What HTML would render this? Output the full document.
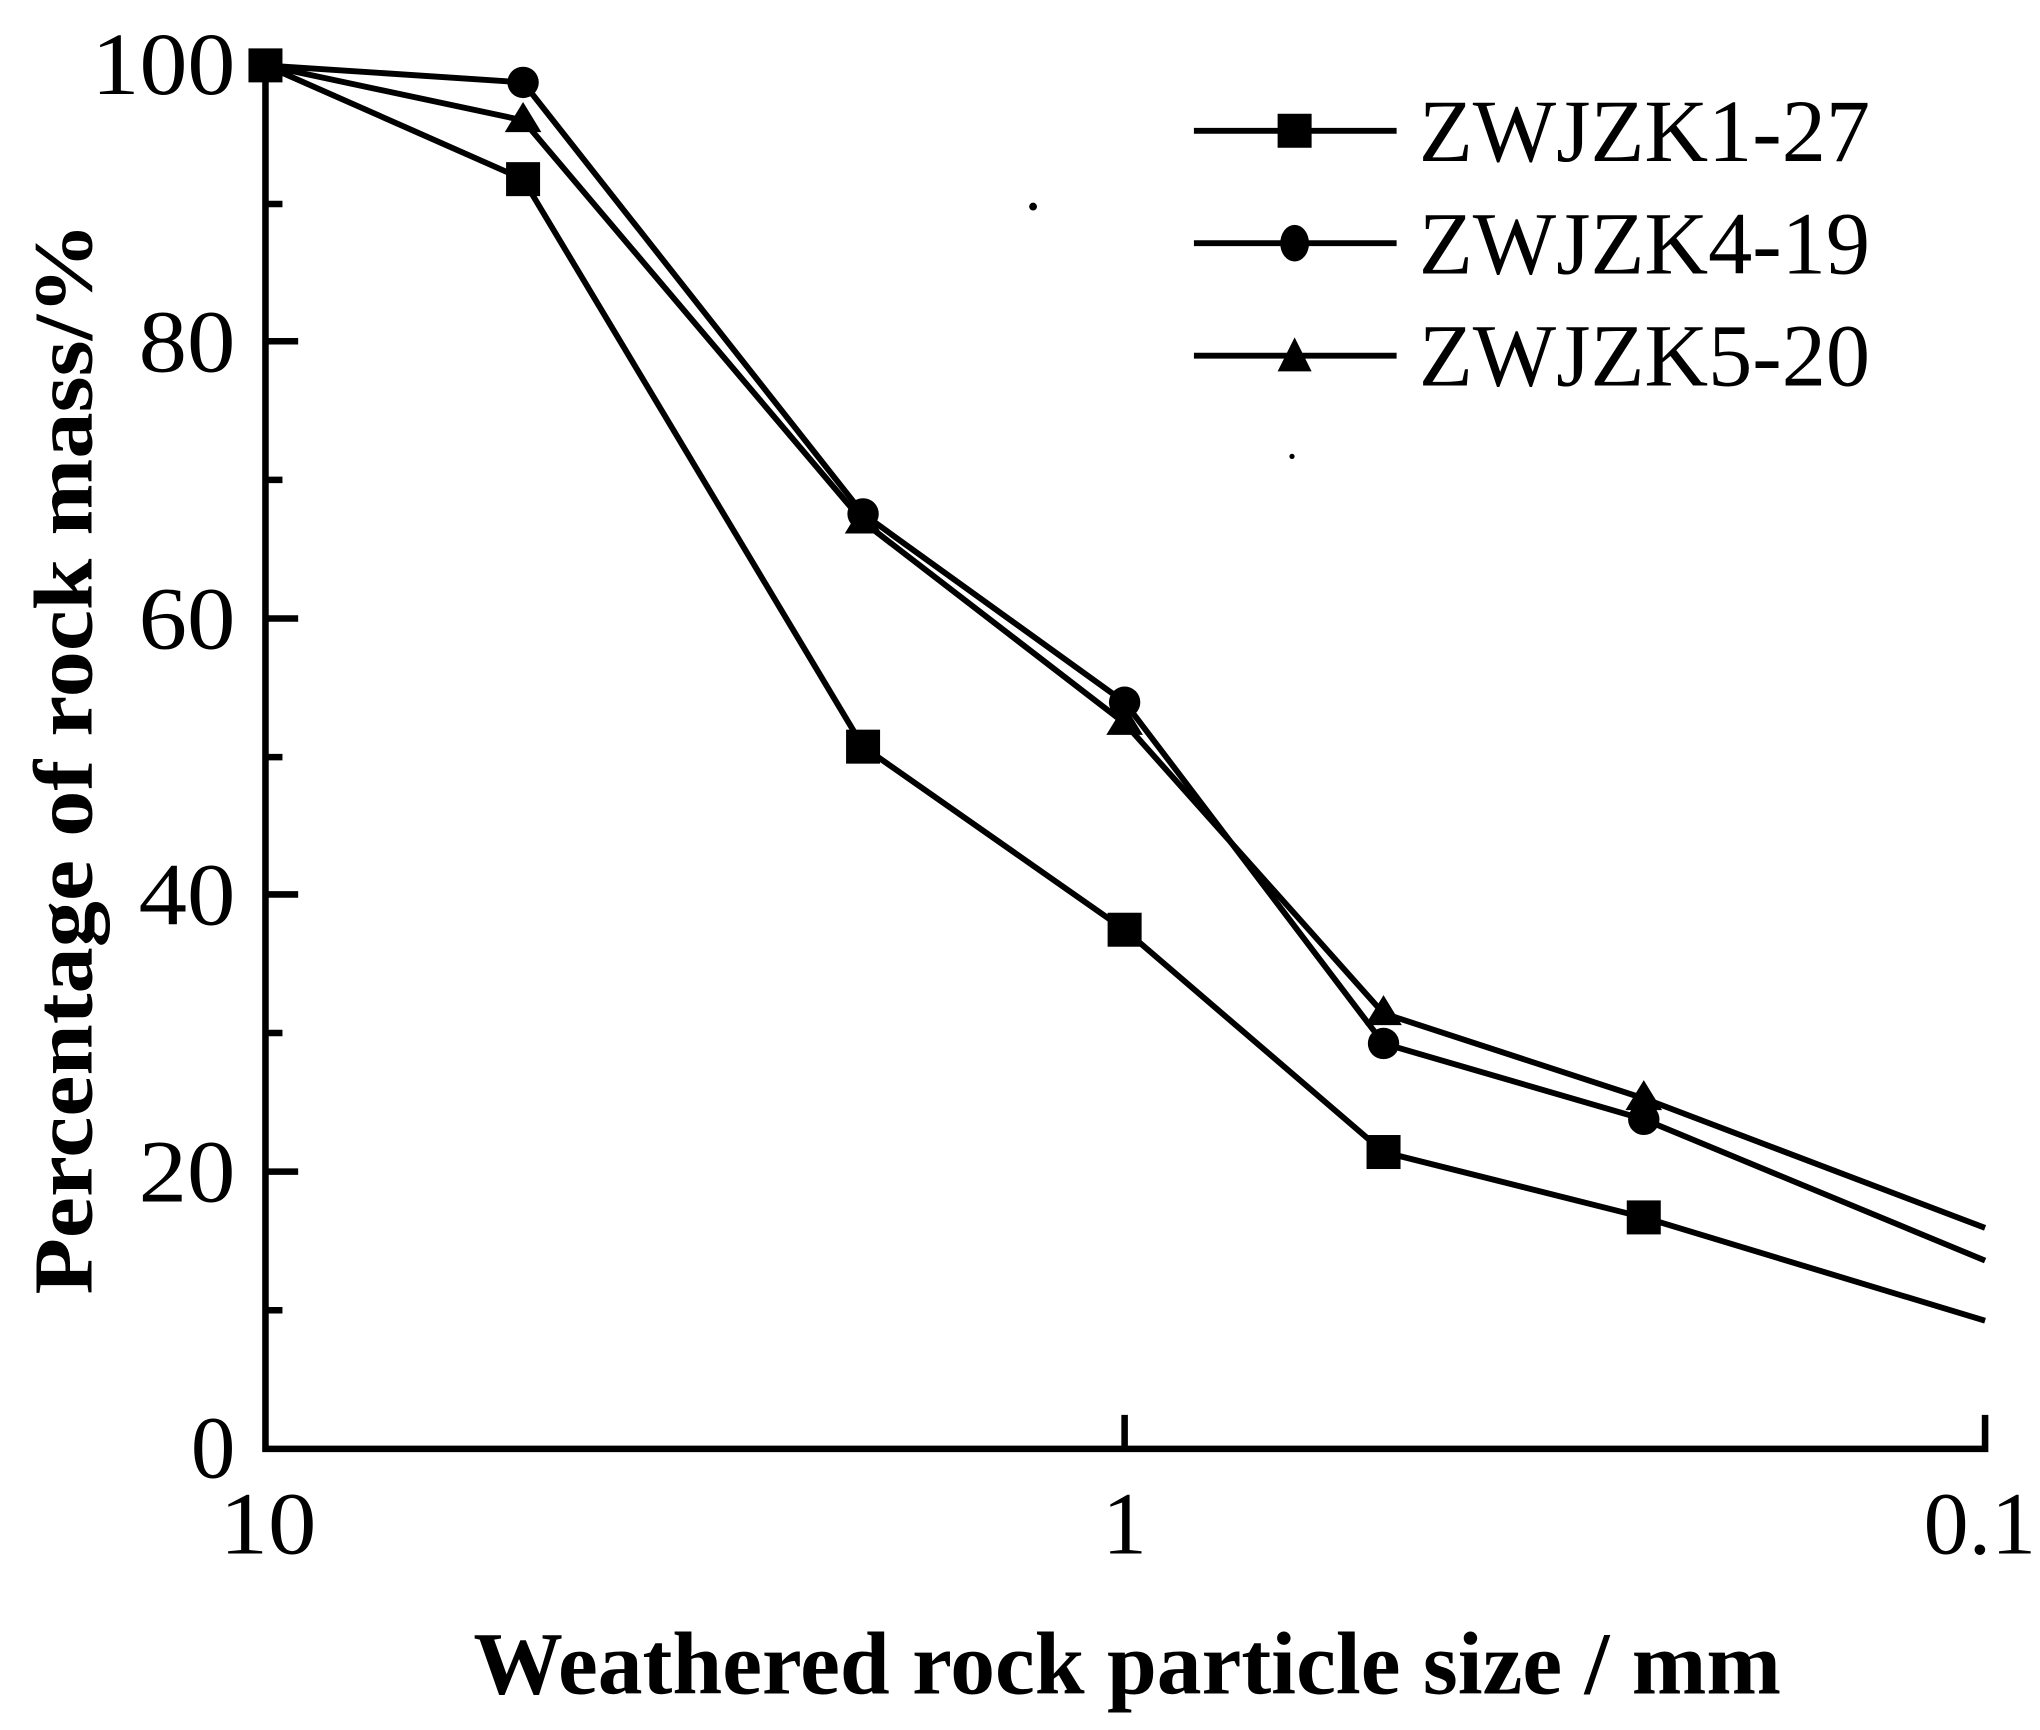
<!DOCTYPE html>
<html><head><meta charset="utf-8"><style>html,body{margin:0;padding:0;background:#fff}svg{display:block}</style></head>
<body>
<svg width="2040" height="1730" viewBox="0 0 1560 1323" preserveAspectRatio="none" xmlns="http://www.w3.org/2000/svg">
<g font-family="Liberation Serif, serif" fill="#000">
<!-- axes -->
<path d="M203,50 V1108 H1518 V1082" stroke="#000" stroke-width="5" fill="none"/>
<path d="M860,1108 V1082" stroke="#000" stroke-width="5"/>
<g stroke="#000" stroke-width="5">
<line x1="203" y1="896" x2="228" y2="896"/><line x1="203" y1="684" x2="228" y2="684"/>
<line x1="203" y1="473" x2="228" y2="473"/><line x1="203" y1="261" x2="228" y2="261"/>
<line x1="203" y1="1002" x2="216" y2="1002"/><line x1="203" y1="790" x2="216" y2="790"/>
<line x1="203" y1="579" x2="216" y2="579"/><line x1="203" y1="367" x2="216" y2="367"/>
<line x1="203" y1="156" x2="216" y2="156"/>
</g>
<g font-size="68" text-anchor="end">
<text x="180" y="72" textLength="110" lengthAdjust="spacingAndGlyphs">100</text><text x="180" y="284" textLength="74" lengthAdjust="spacingAndGlyphs">80</text><text x="180" y="496" textLength="74" lengthAdjust="spacingAndGlyphs">60</text>
<text x="180" y="707" textLength="74" lengthAdjust="spacingAndGlyphs">40</text><text x="180" y="919" textLength="74" lengthAdjust="spacingAndGlyphs">20</text><text x="180" y="1130">0</text>
</g>
<g font-size="68" text-anchor="middle">
<text x="205" y="1188" textLength="74" lengthAdjust="spacingAndGlyphs">10</text><text x="860" y="1188">1</text><text x="1514" y="1188" textLength="86" lengthAdjust="spacingAndGlyphs">0.1</text>
</g>
<text x="862" y="1295" font-size="68" font-weight="bold" text-anchor="middle" textLength="1000" lengthAdjust="spacingAndGlyphs">Weathered rock particle size / mm</text>
<text transform="translate(70,580) rotate(-90)" font-size="64" font-weight="bold" text-anchor="middle" textLength="820" lengthAdjust="spacingAndGlyphs">Percentage of rock mass/%</text>
<!-- series -->
<g stroke="#000" stroke-width="4.5" fill="none">
<polyline points="203,50 400,137 660,571 860,711 1058,881 1257,931 1518,1010"/>
<polyline points="203,50 400,63 660,393 860,537 1058,798 1257,856 1518,964"/>
<polyline points="203,50 400,92 660,399 860,553 1058,775 1257,840 1518,939"/>
</g>
<g>
<rect x="190" y="37" width="26" height="26"/><rect x="387" y="124" width="26" height="26"/>
<rect x="647" y="558" width="26" height="26"/><rect x="847" y="698" width="26" height="26"/>
<rect x="1045" y="868" width="26" height="26"/><rect x="1244" y="918" width="26" height="26"/>
<circle cx="400" cy="63" r="12"/><circle cx="660" cy="393" r="12"/><circle cx="860" cy="537" r="12"/>
<circle cx="1058" cy="798" r="12"/><circle cx="1257" cy="856" r="12"/>
<path d="M400,78 l-14,23 h28z M660,385 l-14,23 h28z M860,539 l-14,23 h28z M1058,761 l-14,23 h28z M1257,826 l-14,23 h28z"/>
</g>
<!-- legend -->
<g stroke="#000" stroke-width="4.5">
<line x1="913" y1="100" x2="1068" y2="100"/><line x1="913" y1="186" x2="1068" y2="186"/><line x1="913" y1="272" x2="1068" y2="272"/>
</g>
<rect x="977" y="87" width="26" height="26"/>
<ellipse cx="990" cy="186" rx="11" ry="14"/>
<path d="M990,258 l-13,26 h26z"/>
<g font-size="68">
<text x="1085" y="123" textLength="345" lengthAdjust="spacingAndGlyphs">ZWJZK1-27</text>
<text x="1085" y="209" textLength="345" lengthAdjust="spacingAndGlyphs">ZWJZK4-19</text>
<text x="1085" y="295" textLength="345" lengthAdjust="spacingAndGlyphs">ZWJZK5-20</text>
</g>
<circle cx="790" cy="158" r="3"/><circle cx="988" cy="349" r="2"/>
</g>
</svg>
</body></html>
